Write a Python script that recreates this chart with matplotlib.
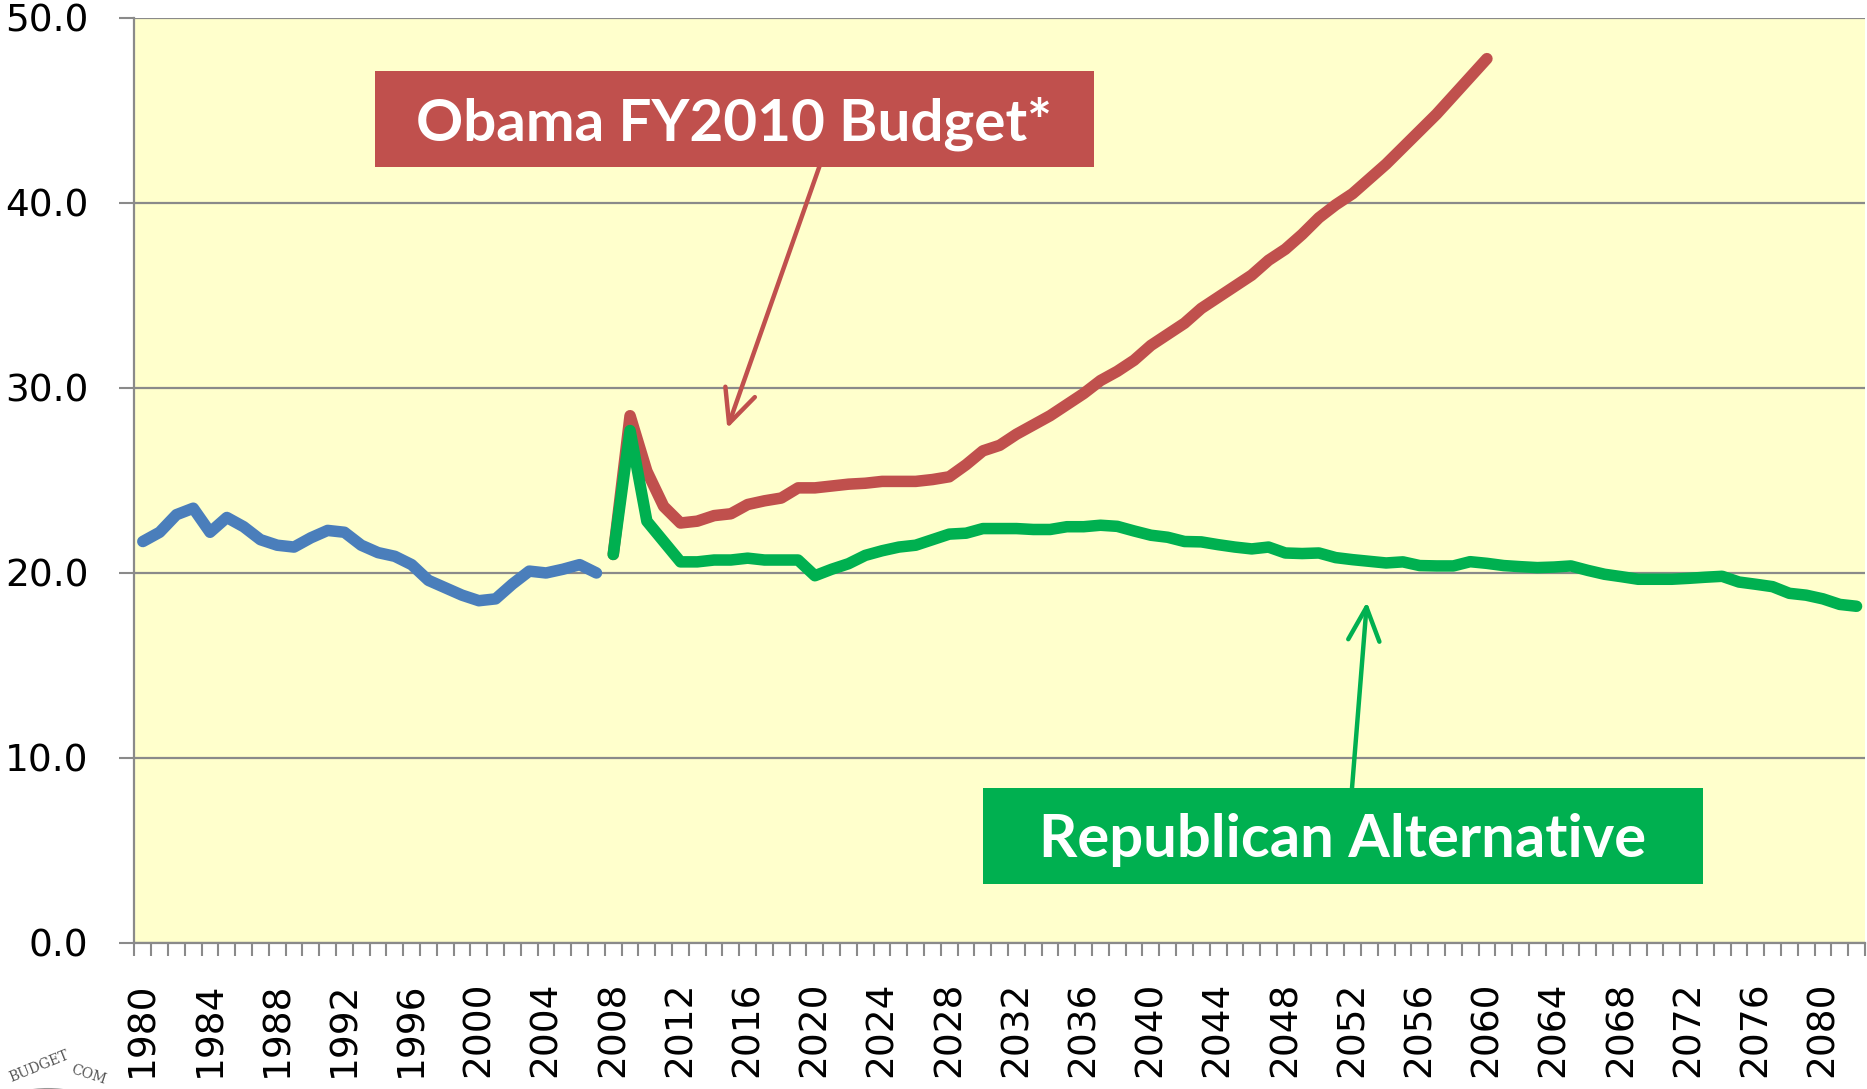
import matplotlib
matplotlib.use('Agg')
import matplotlib.pyplot as plt
from matplotlib.patches import Rectangle, Circle
from matplotlib.ticker import FixedLocator

# historical outlays, % of GDP
hist_years = list(range(1980, 2008))
hist_vals = [21.7, 22.2, 23.15, 23.5, 22.2, 23.0, 22.5, 21.8, 21.5, 21.4,
             21.9, 22.3, 22.2, 21.5, 21.1, 20.9, 20.45, 19.6, 19.2, 18.8,
             18.5, 18.6, 19.4, 20.1, 20.0, 20.2, 20.45, 20.0]

# Obama FY2010 budget path
obama_years = list(range(2008, 2061))
obama_vals = [21.0, 28.5, 25.5, 23.6, 22.7, 22.8, 23.1, 23.2, 23.7, 23.9,
              24.05, 24.6, 24.6, 24.7, 24.8, 24.85, 24.95, 24.95, 24.95, 25.05,
              25.2, 25.85, 26.6, 26.9, 27.5, 28.0, 28.5, 29.1, 29.7, 30.4,
              30.9, 31.5, 32.3, 32.9, 33.5, 34.3, 34.9, 35.5, 36.1, 36.9,
              37.5, 38.3, 39.2, 39.9, 40.5, 41.3, 42.1, 43.0, 43.9, 44.8,
              45.8, 46.8, 47.8]

# Republican alternative path
gop_years = list(range(2008, 2083))
gop_vals = [21.0, 27.7, 22.8, 21.7, 20.6, 20.6, 20.7, 20.7, 20.8, 20.7,
            20.7, 20.7, 19.85, 20.2, 20.5, 20.95, 21.2, 21.4, 21.5, 21.8,
            22.1, 22.15, 22.4, 22.4, 22.4, 22.35, 22.35, 22.5, 22.5, 22.58,
            22.52, 22.27, 22.04, 21.93, 21.7, 21.68, 21.53, 21.4, 21.3, 21.4,
            21.08, 21.05, 21.08, 20.83, 20.72, 20.63, 20.54, 20.6, 20.4, 20.38,
            20.38, 20.61, 20.52, 20.4, 20.34, 20.29, 20.32, 20.38, 20.14, 19.93,
            19.8, 19.66, 19.66, 19.66, 19.71, 19.77, 19.82, 19.51, 19.39, 19.26,
            18.9, 18.8, 18.6, 18.3, 18.2]

y_ticks = [0, 10, 20, 30, 40, 50]
x_labels = list(range(1980, 2081, 4))

BLUE = '#4a7ebb'
RED = '#c0504d'
GREEN = '#00b050'
GRID = '#8a8a8a'

fig = plt.figure(figsize=(18.67, 10.89), dpi=100)
ax = fig.add_axes([0.0720, 0.1341, 0.9269, 0.8494])
ax.set_facecolor('#ffffcc')

lw = 8.3
ax.plot(hist_years, hist_vals, color=BLUE, lw=lw, solid_capstyle='round', solid_joinstyle='round', zorder=3)
ax.plot(obama_years, obama_vals, color=RED, lw=lw, solid_capstyle='round', solid_joinstyle='round', zorder=3)
ax.plot(gop_years, gop_vals, color=GREEN, lw=lw, solid_capstyle='round', solid_joinstyle='round', zorder=4)

ax.set_xlim(1979.5, 2082.5)
ax.set_ylim(0, 50)

ax.yaxis.set_major_locator(FixedLocator(y_ticks))
ax.set_yticklabels([f"{v:.1f}" for v in y_ticks])
ax.xaxis.set_major_locator(FixedLocator(x_labels))
ax.set_xticklabels([str(y) for y in x_labels], rotation=90)
ax.xaxis.set_minor_locator(FixedLocator([1979.5 + k for k in range(104)]))

ax.tick_params(axis='y', which='major', length=11, width=1.5, color=GRID,
               labelsize=27, pad=22)
ax.tick_params(axis='x', which='major', length=0, labelsize=27, pad=28)
ax.tick_params(axis='x', which='minor', length=9.5, width=1.5, color=GRID)

ax.grid(axis='y', color=GRID, lw=1.6, zorder=1)
ax.set_axisbelow(True)
for s in ['top', 'right']:
    ax.spines[s].set_visible(False)
for s in ['left', 'bottom']:
    ax.spines[s].set_color(GRID)
    ax.spines[s].set_linewidth(1.6)
ax.spines['bottom'].set_zorder(5)

# label boxes
ax.add_patch(Rectangle((0.1390, 0.8389), 0.4155, 0.1038, transform=ax.transAxes,
                       facecolor=RED, edgecolor='none', zorder=6))
ax.text(0.3467, 0.867, "Obama FY2010 Budget*", transform=ax.transAxes,
        ha='center', va='baseline', color='white', fontsize=42,
        fontweight='bold', family='Lato', zorder=7)

ax.add_patch(Rectangle((0.4904, 0.0638), 0.4160, 0.1038, transform=ax.transAxes,
                       facecolor=GREEN, edgecolor='none', zorder=6))
ax.text(0.6983, 0.0925, "Republican Alternative", transform=ax.transAxes,
        ha='center', va='baseline', color='white', fontsize=43,
        fontweight='bold', family='Lato', zorder=7)

# arrows
ax.annotate('', xy=(0.3426, 0.5564), xytext=(0.3958, 0.8393),
            xycoords='axes fraction', textcoords='axes fraction',
            arrowprops=dict(arrowstyle='->,head_length=1.6,head_width=0.75',
                            mutation_scale=15, color=RED, lw=3.2,
                            shrinkA=0, shrinkB=0, capstyle='round'),
            zorder=5)
ax.annotate('', xy=(0.7122, 0.3686), xytext=(0.7036, 0.1676),
            xycoords='axes fraction', textcoords='axes fraction',
            arrowprops=dict(arrowstyle='->,head_length=1.6,head_width=0.75',
                            mutation_scale=15, color=GREEN, lw=3.2,
                            shrinkA=0, shrinkB=0, capstyle='round'),
            zorder=5)

# partial seal in the corner
seal = Circle((48 / 1867, 1 - 1128 / 1089), 0.036, transform=fig.transFigure,
              facecolor='white', edgecolor='#999999', lw=1.2)
fig.patches.append(seal)
fig.text(0.004, 1 - 1082 / 1089, "BUDGET", fontsize=10, rotation=22,
         color='#555555', family='DejaVu Serif')
fig.text(0.037, 1 - 1084 / 1089, "COM", fontsize=10, rotation=-18,
         color='#555555', family='DejaVu Serif')

fig.savefig('out.png', dpi=100)
